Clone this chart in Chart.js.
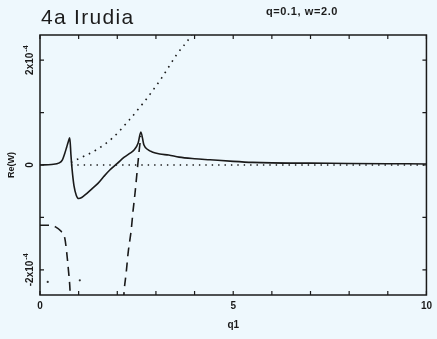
<!DOCTYPE html>
<html><head><meta charset="utf-8">
<script src="https://cdn.jsdelivr.net/npm/chart.js@4.4.1/dist/chart.umd.min.js"></script>
<style>
html,body{margin:0;padding:0;background:#eef8fd;}
#wrap{position:relative;width:437px;height:339px;overflow:hidden;}
canvas{position:absolute;left:0;top:0;}
#t1{position:absolute;left:41px;top:5px;font:300 21px "Liberation Sans",sans-serif;letter-spacing:1.3px;color:#1c1c1c;}
#t2{position:absolute;left:266px;top:5px;font:bold 11px "Liberation Sans",sans-serif;letter-spacing:0.6px;color:#1c1c1c;}
</style></head>
<body><div id="wrap"><canvas id="c" width="437" height="339"></canvas><div id="t1">4a Irudia</div><div id="t2">q=0.1, w=2.0</div></div>
<script>
// values in units of 1e-4
const UNIT = 1e-4;
const solidQ  = [0, 0.3, 0.5, 0.58, 0.64, 0.69, 0.73, 0.77, 0.8, 0.83, 0.88, 0.94, 1.0, 1.08, 1.2, 1.35, 1.5, 1.65, 1.8, 2.0, 2.18, 2.32, 2.44, 2.54, 2.61, 2.69, 2.8, 2.9, 3.1, 3.33, 3.6, 4.0, 4.4, 5.0, 5.5, 6, 7, 8, 9, 10];
const solidRe = [0, 0.01, 0.04, 0.1, 0.22, 0.34, 0.44, 0.52, 0.2, -0.08, -0.4, -0.58, -0.64, -0.62, -0.55, -0.45, -0.35, -0.22, -0.1, 0.03, 0.15, 0.22, 0.29, 0.42, 0.63, 0.38, 0.29, 0.25, 0.21, 0.19, 0.15, 0.12, 0.1, 0.07, 0.05, 0.04, 0.035, 0.03, 0.025, 0.02];
const dashLeftQ  = [0, 0.25, 0.4, 0.54, 0.64, 0.69, 0.74, 0.77, 0.79];
const dashLeftRe = [-1.15, -1.15, -1.18, -1.26, -1.39, -1.66, -2.04, -2.3, -2.6];
const dashRightQ  = [2.16, 2.18, 2.23, 2.28, 2.36, 2.41, 2.46, 2.51, 2.57, 2.61];
const dashRightRe = [-2.6, -2.38, -2.06, -1.68, -1.24, -0.86, -0.53, -0.15, 0.3, 0.55];
const dotRiseQ  = [0.8, 1.03, 1.46, 1.87, 2.31, 2.69, 3.13, 3.54, 3.92, 4.0];
const dotRiseRe = [0.05, 0.13, 0.29, 0.51, 0.86, 1.2, 1.64, 2.11, 2.48, 2.6];
const dotZeroQ  = [0.8, 10];
const dotZeroRe = [0, 0];
const strayQ  = [0.2, 1.03];
const strayRe = [-2.23, -2.2];
const xTicks = [0,1,2,3,4,5,6,7,8,9,10];
const xTickLabels = ['0','','','','','5','','','','','10'];
const yTicks = [-2, -1, 0, 1, 2];
const yTickLabels = [['-2x10','-4'], null, ['0',''], null, ['2x10','-4']];

function pts(q, v){ return q.map((x,i)=>({x:x, y:v[i]*UNIT})); }
const INK = '#1a1a1a';

const framePlugin = {
  id:'frame',
  afterDatasetsDraw(chart){
    const {ctx, chartArea:a, scales:{x, y}} = chart;
    ctx.save();
    ctx.strokeStyle = INK; ctx.lineWidth = 1.5;
    ctx.strokeRect(a.left, a.top, a.right-a.left, a.bottom-a.top);
    ctx.lineWidth = 1.2;
    xTicks.forEach(v=>{
      const px = x.getPixelForValue(v);
      const L = 4;
      ctx.beginPath();
      ctx.moveTo(px, a.bottom); ctx.lineTo(px, a.bottom-L);
      ctx.moveTo(px, a.top); ctx.lineTo(px, a.top+L);
      ctx.stroke();
    });
    yTicks.forEach(v=>{
      const py = y.getPixelForValue(v*UNIT);
      const L = 4;
      ctx.beginPath();
      ctx.moveTo(a.left, py); ctx.lineTo(a.left+L, py);
      ctx.moveTo(a.right, py); ctx.lineTo(a.right-L, py);
      ctx.stroke();
    });
    // rotated y tick labels
    ctx.fillStyle = INK;
    ctx.textBaseline = 'middle';
    yTicks.forEach((v,i)=>{
      const lab = yTickLabels[i];
      if(!lab) return;
      const py = y.getPixelForValue(v*UNIT);
      ctx.save();
      ctx.translate(a.left-10, py);
      ctx.rotate(-Math.PI/2);
      ctx.font = 'bold 10px "Liberation Sans", sans-serif';
      const w1 = ctx.measureText(lab[0]).width;
      ctx.font = 'bold 7px "Liberation Sans", sans-serif';
      const w2 = lab[1] ? ctx.measureText(lab[1]).width + 1 : 0;
      const sx = -(w1+w2)/2;
      ctx.font = 'bold 10px "Liberation Sans", sans-serif';
      ctx.fillText(lab[0], sx, 0);
      if(lab[1]){ ctx.font = 'bold 7px "Liberation Sans", sans-serif'; ctx.fillText(lab[1], sx+w1+1, -4); }
      ctx.restore();
    });
    ctx.restore();
  }
};

new Chart(document.getElementById('c'), {
  type:'line',
  data:{datasets:[
    {label:'Re solid', data:pts(solidQ, solidRe), borderColor:INK, borderWidth:1.6, pointRadius:0, cubicInterpolationMode:'monotone', fill:false},
    {label:'dashed 1', data:pts(dashLeftQ, dashLeftRe), borderColor:INK, borderWidth:1.6, borderDash:[9,6], pointRadius:0, cubicInterpolationMode:'monotone', fill:false},
    {label:'dashed 2', data:pts(dashRightQ, dashRightRe), borderColor:INK, borderWidth:1.6, borderDash:[9,6], pointRadius:0, cubicInterpolationMode:'monotone', fill:false},
    {label:'dotted rise', data:pts(dotRiseQ, dotRiseRe), borderColor:INK, borderWidth:1.6, borderDash:[1.6,5], pointRadius:0, cubicInterpolationMode:'monotone', fill:false},
    {label:'dotted zero', data:pts(dotZeroQ, dotZeroRe), borderColor:INK, borderWidth:1.4, borderDash:[1.4,5], pointRadius:0, fill:false},
    {label:'stray', data:pts(strayQ, strayRe), showLine:false, pointRadius:1.1, pointBorderWidth:0, pointBackgroundColor:'#333'}
  ]},
  options:{
    responsive:false, animation:false,
    layout:{padding:{left:0, right:7, top:35, bottom:0}},
    plugins:{legend:{display:false}, tooltip:{enabled:false}},
    scales:{
      x:{type:'linear', min:0, max:10,
        afterFit(s){ s.height = 44; },
        afterBuildTicks(s){ s.ticks = xTicks.map(v=>({value:v})); },
        grid:{display:false, drawTicks:false}, border:{display:false},
        ticks:{padding:5, autoSkip:false, maxRotation:0, color:INK,
          font:{family:'"Liberation Sans", sans-serif', size:10, weight:'bold'},
          callback:(v)=>{ const i = xTicks.indexOf(v); return i>=0 ? xTickLabels[i] : ''; }},
        title:{display:true, text:'q1', color:INK, padding:{top:0,bottom:8},
          font:{family:'"Liberation Sans", sans-serif', size:10, weight:'bold'}}
      },
      y:{type:'linear', min:-2.48*UNIT, max:2.48*UNIT,
        afterFit(s){ s.width = 40; },
        grid:{display:false, drawTicks:false}, border:{display:false},
        ticks:{display:false},
        title:{display:true, text:'Re(W)', color:INK, padding:{top:6,bottom:0},
          font:{family:'"Liberation Sans", sans-serif', size:9, weight:'bold'}}
      }
    }
  },
  plugins:[framePlugin]
});
</script>
</body></html>
